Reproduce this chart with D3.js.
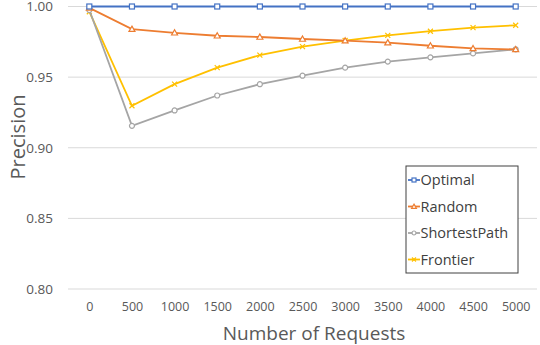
<!DOCTYPE html>
<html>
<head>
<meta charset="utf-8">
<script src="https://cdn.jsdelivr.net/npm/d3@7"></script>
<style>
  body { margin: 0; background: #fff; }
  text { font-family: "Open Sans", Lato, sans-serif; fill: #595959; }
</style>
</head>
<body>
<div id="chart"></div>
<script>
// Data
const requests = ["0", "500", "1000", "1500", "2000", "2500", "3000", "3500", "4000", "4500", "5000"];
const optimal = [1, 1, 1, 1, 1, 1, 1, 1, 1, 1, 1];
const random = [0.999, 0.984, 0.9814, 0.9793, 0.9784, 0.977, 0.9758, 0.9744, 0.9722, 0.9703, 0.9696];
const shortestPath = [0.9975, 0.9155, 0.9264, 0.937, 0.945, 0.951, 0.9567, 0.961, 0.964, 0.9668, 0.9697];
const frontier = [0.9963, 0.9297, 0.945, 0.9567, 0.9656, 0.9716, 0.9759, 0.9796, 0.9825, 0.985, 0.9867];
const yTicks = [0.80, 0.85, 0.90, 0.95, 1.00];

const series = [
  { name: "Optimal", values: optimal, color: "#4472C4", marker: "square" },
  { name: "Random", values: random, color: "#ED7D31", marker: "triangle" },
  { name: "ShortestPath", values: shortestPath, color: "#A5A5A5", marker: "circle" },
  { name: "Frontier", values: frontier, color: "#FFC000", marker: "cross" }
];

const W = 540, H = 345;
const margin = { top: 6.5, right: 3, bottom: 56, left: 68 };
const width = W - margin.left - margin.right;
const height = H - margin.top - margin.bottom;

const svg = d3.select("#chart")
    .append("svg")
    .attr("width", W)
    .attr("height", H);

const g = svg.append("g")
    .attr("transform", `translate(${margin.left},${margin.top})`);

const xScale = d3.scalePoint()
    .domain(requests)
    .range([0, width])
    .padding(0.5);

const yScale = d3.scaleLinear()
    .domain([0.8, 1.0])
    .range([height, 0]);

// Gridlines
g.selectAll(".grid")
    .data(yTicks)
    .enter().append("line")
    .attr("x1", 0)
    .attr("x2", width)
    .attr("y1", d => yScale(d))
    .attr("y2", d => yScale(d))
    .attr("stroke", "#D9D9D9")
    .attr("stroke-width", 1);

// Y axis labels
const yAxis = g.append("g")
    .call(d3.axisLeft(yScale).tickValues(yTicks).tickFormat(d3.format(".2f")).tickSize(0).tickPadding(15));
yAxis.select(".domain").remove();
yAxis.selectAll("text").style("font-size", "13.5px").attr("fill", "#595959");

// X axis labels
const xAxis = g.append("g")
    .attr("transform", `translate(0,${height})`)
    .call(d3.axisBottom(xScale).tickSize(0).tickPadding(13));
xAxis.select(".domain").remove();
xAxis.selectAll("text").style("font-size", "12.5px").attr("fill", "#595959");

// Axis titles
svg.append("text")
    .attr("x", 314)
    .attr("y", 339.5)
    .style("text-anchor", "middle")
    .style("font-size", "19px")
    .text("Number of Requests");

svg.append("text")
    .attr("transform", "rotate(-90)")
    .attr("x", -137)
    .attr("y", 25)
    .style("text-anchor", "middle")
    .style("font-size", "20px")
    .text("Precision");

// Marker drawing
function drawMarker(sel, type, color, size) {
  const s = size;
  if (type === "square") {
    sel.append("rect").attr("x", -s / 2).attr("y", -s / 2).attr("width", s).attr("height", s)
      .attr("fill", "#fff").attr("stroke", color).attr("stroke-width", 1.2);
  } else if (type === "triangle") {
    sel.append("path").attr("d", `M0,${-s * 0.6}L${s * 0.6},${s * 0.45}L${-s * 0.6},${s * 0.45}Z`)
      .attr("fill", "#fff").attr("stroke", color).attr("stroke-width", 1.2);
  } else if (type === "circle") {
    sel.append("circle").attr("r", s / 2)
      .attr("fill", "#fff").attr("stroke", color).attr("stroke-width", 1.2);
  } else {
    sel.append("path").attr("d", `M${-s / 2},${-s / 2}L${s / 2},${s / 2}M${-s / 2},${s / 2}L${s / 2},${-s / 2}`)
      .attr("fill", "none").attr("stroke", color).attr("stroke-width", 1.2);
  }
}

const line = d3.line()
    .x((d, i) => xScale(requests[i]))
    .y(d => yScale(d));

// Draw in reverse so Optimal sits on top
series.slice().reverse().forEach(s => {
  g.append("path")
    .datum(s.values)
    .attr("fill", "none")
    .attr("stroke", s.color)
    .attr("stroke-width", 1.8)
    .attr("d", line);

  s.values.forEach((v, i) => {
    const m = g.append("g")
      .attr("transform", `translate(${xScale(requests[i])},${yScale(v)})`);
    drawMarker(m, s.marker, s.color, 5);
  });
});

// Legend
const legend = svg.append("g").attr("transform", "translate(406,166)");
legend.append("rect")
    .attr("width", 112)
    .attr("height", 107)
    .attr("fill", "#fff")
    .attr("stroke", "#404040")
    .attr("stroke-width", 1);

series.forEach((s, i) => {
  const row = legend.append("g").attr("transform", `translate(0,${14 + i * 26.5})`);
  row.append("line")
    .attr("x1", 2).attr("x2", 14)
    .attr("stroke", s.color).attr("stroke-width", 1.8);
  drawMarker(row.append("g").attr("transform", "translate(8,0)"), s.marker, s.color, 4);
  row.append("text")
    .attr("x", 14.5)
    .attr("dy", "0.35em")
    .style("font-size", "14.5px")
    .style("fill", "#404040")
    .text(s.name);
});
</script>
</body>
</html>
